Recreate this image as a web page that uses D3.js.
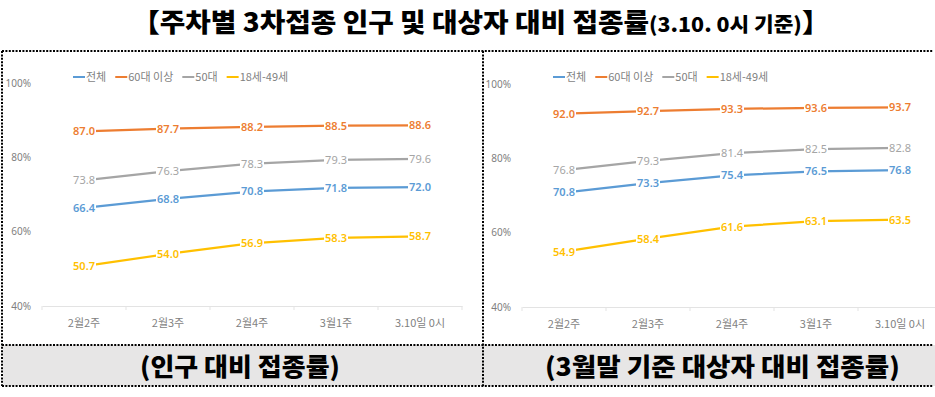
<!DOCTYPE html>
<html>
<head>
<meta charset="utf-8">
<script src="https://cdn.jsdelivr.net/npm/d3@7"></script>
<style>
  body { margin: 0; background: #fff; }
  svg { display: block; font-family: "Noto Sans CJK KR", "Noto Sans", sans-serif; }
</style>
</head>
<body>
<div id="chart"></div>
<script>
var svgWidth = 935;
var svgHeight = 397;

// data
var categories = ["2월2주", "2월3주", "2월4주", "3월1주", "3.10일 0시"];
var seriesNames = ["전체", "60대 이상", "50대", "18세-49세"];
var seriesColors = ["#5B9BD5", "#ED7D31", "#A5A5A5", "#FFC000"];
var yTicks = [40, 60, 80, 100];

// left: 인구 대비
var popTotal = [66.4, 68.8, 70.8, 71.8, 72.0];
var pop60 = [87.0, 87.7, 88.2, 88.5, 88.6];
var pop50 = [73.8, 76.3, 78.3, 79.3, 79.6];
var pop18 = [50.7, 54.0, 56.9, 58.3, 58.7];

// right: 대상자 대비
var tgtTotal = [70.8, 73.3, 75.4, 76.5, 76.8];
var tgt60 = [92.0, 92.7, 93.3, 93.6, 93.7];
var tgt50 = [76.8, 79.3, 81.4, 82.5, 82.8];
var tgt18 = [54.9, 58.4, 61.6, 63.1, 63.5];

var titleMain = "【주차별 3차접종 인구 및 대상자 대비 접종률";
var titleSub = "(3.10. 0시 기준)";
var titleEnd = "】";
var captions = ["(인구 대비 접종률)", "(3월말 기준 대상자 대비 접종률)"];

var svg = d3.select("#chart")
    .append("svg")
    .attr("width", svgWidth)
    .attr("height", svgHeight);

// squeeze a text horizontally so it spans [left, left+w]
function fitText(sel, left, w) {
    var b = sel.node().getBBox();
    sel.attr("transform", `translate(${left}, 0) scale(${w / b.width}, 1) translate(${-b.x}, 0)`);
}

// title
var title = svg.append("text")
    .attr("x", 0)
    .attr("y", 32)
    .attr("font-weight", 900)
    .attr("fill", "#000");
title.append("tspan").attr("font-size", "26px").text(titleMain);
title.append("tspan").attr("font-size", "20px").text(titleSub);
title.append("tspan").attr("font-size", "26px").text(titleEnd);
fitText(title, 132, 698);

// caption band
svg.append("rect")
    .attr("x", 3)
    .attr("y", 345)
    .attr("width", 932)
    .attr("height", 41)
    .attr("fill", "#e7e6e6");

// dotted frame
var dots = "2,1.4";
var frame = [
    [2, 51, 933, 51],
    [2, 345, 933, 345],
    [2, 386, 933, 386],
    [2, 51, 2, 386],
    [483, 51, 483, 386]
];
svg.selectAll("line.frame")
    .data(frame)
    .enter()
    .append("line")
    .attr("class", "frame")
    .attr("x1", d => d[0])
    .attr("y1", d => d[1])
    .attr("x2", d => d[2])
    .attr("y2", d => d[3])
    .attr("stroke", "#000")
    .attr("stroke-width", 2)
    .attr("stroke-dasharray", dots);

// captions
var capPos = [[140, 200], [545, 355]];
svg.selectAll("text.caption")
    .data(captions)
    .enter()
    .append("text")
    .attr("class", "caption")
    .attr("x", 0)
    .attr("y", 376)
    .attr("font-size", "25px")
    .attr("font-weight", 900)
    .attr("fill", "#000")
    .text(d => d)
    .each(function(d, i) {
        fitText(d3.select(this), capPos[i][0], capPos[i][1]);
    });

function drawPanel(x0, top, bottom, seriesData) {
    var g = svg.append("g");

    var x = d3.scaleBand()
        .domain(categories)
        .range([x0, x0 + 5 * 84]);
    var y = d3.scaleLinear()
        .domain([40, 100])
        .range([bottom, top]);

    // y axis labels (no axis line)
    var yAxis = d3.axisLeft(y)
        .tickValues(yTicks)
        .tickSize(0)
        .tickPadding(0)
        .tickFormat(d => d + "%");
    var yg = g.append("g")
        .attr("transform", `translate(${x0 - 11}, 0)`)
        .call(yAxis);
    yg.select(".domain").remove();
    yg.selectAll("text")
        .attr("font-size", "10px")
        .attr("fill", "#7f7f7f")
        .attr("font-family", "'Noto Sans', sans-serif");

    // x axis
    var xAxis = d3.axisBottom(x)
        .tickSize(0)
        .tickPadding(13);
    var xg = g.append("g")
        .attr("transform", `translate(0, ${bottom})`)
        .call(xAxis);
    xg.select(".domain")
        .attr("stroke", "#e3e3e3")
        .attr("stroke-width", 1);
    xg.selectAll("text")
        .attr("font-size", "11px")
        .attr("fill", "#7f7f7f")
        .attr("font-family", "'Noto Sans CJK KR', sans-serif");
    // category separators
    g.selectAll("line.sep")
        .data(d3.range(categories.length + 1))
        .enter()
        .append("line")
        .attr("class", "sep")
        .attr("x1", i => x0 + i * x.step())
        .attr("x2", i => x0 + i * x.step())
        .attr("y1", bottom)
        .attr("y2", bottom + 4)
        .attr("stroke", "#e3e3e3");

    var line = d3.line()
        .x((d, i) => x(categories[i]) + x.bandwidth() / 2)
        .y(d => y(d));

    seriesData.forEach(function(values, s) {
        g.append("path")
            .datum(values)
            .attr("d", line)
            .attr("fill", "none")
            .attr("stroke", seriesColors[s])
            .attr("stroke-width", 2.25);

        var lbl = g.selectAll("g.lbl" + s)
            .data(values)
            .enter()
            .append("g")
            .attr("class", "lbl" + s)
            .attr("transform", (d, i) => `translate(${x(categories[i]) + x.bandwidth() / 2}, ${y(d)})`);
        // white box hides the line under the label
        lbl.append("rect")
            .attr("x", -12)
            .attr("y", -6)
            .attr("width", 24)
            .attr("height", 12)
            .attr("fill", "#fff");
        lbl.append("text")
            .attr("dy", "0.36em")
            .attr("text-anchor", "middle")
            .attr("font-size", "11px")
            .attr("font-weight", s == 2 ? 400 : 600)
            .attr("font-family", "'Noto Sans', sans-serif")
            .attr("fill", seriesColors[s])
            .text(d => d.toFixed(1));
    });

    // legend
    var lg = g.append("g")
        .attr("transform", `translate(${x0 + 31}, 77)`);
    var lx = 0;
    seriesNames.forEach(function(name, s) {
        lg.append("line")
            .attr("x1", lx)
            .attr("x2", lx + 12)
            .attr("y1", 0)
            .attr("y2", 0)
            .attr("stroke", seriesColors[s])
            .attr("stroke-width", 2);
        var t = lg.append("text")
            .attr("x", lx + 13)
            .attr("y", 0)
            .attr("dy", "0.36em")
            .attr("font-size", "11px")
            .attr("fill", "#7f7f7f")
            .text(name);
        lx += 13 + t.node().getComputedTextLength() + 9;
    });
}

drawPanel(42, 83, 306, [popTotal, pop60, pop50, pop18]);
drawPanel(522, 84, 307, [tgtTotal, tgt60, tgt50, tgt18]);
</script>
</body>
</html>
